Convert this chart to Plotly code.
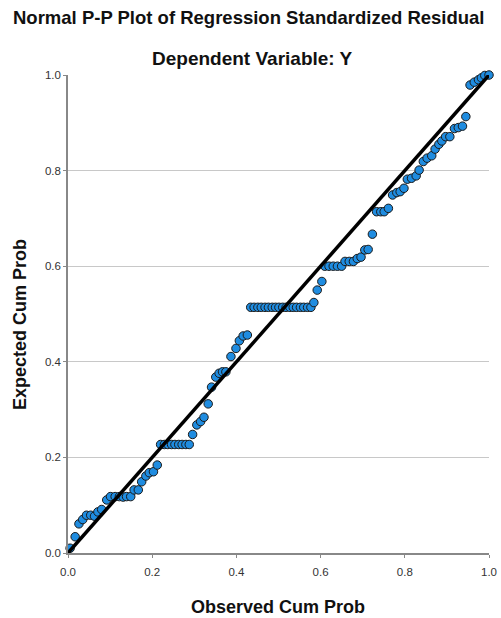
import plotly.graph_objects as go

observed = [0.005, 0.017, 0.026, 0.035, 0.044, 0.054, 0.063, 0.071, 0.080, 0.092,
            0.101, 0.112, 0.122, 0.131, 0.139, 0.149, 0.157, 0.167, 0.175, 0.185,
            0.193, 0.203, 0.212,
            0.220, 0.229, 0.237, 0.246, 0.254, 0.263, 0.271, 0.280, 0.288,
            0.296, 0.306, 0.315, 0.323, 0.333, 0.341, 0.351, 0.359, 0.367, 0.375,
            0.387, 0.399, 0.407, 0.416, 0.426,
            0.434, 0.442, 0.451, 0.459, 0.468, 0.476, 0.485, 0.493, 0.501, 0.510,
            0.518, 0.527, 0.535, 0.543, 0.552, 0.560, 0.569, 0.577,
            0.584, 0.592, 0.603,
            0.610, 0.620, 0.630, 0.640, 0.650,
            0.658, 0.668, 0.678, 0.687, 0.696, 0.705, 0.713, 0.723,
            0.733, 0.743, 0.751, 0.761, 0.771, 0.781, 0.789, 0.798,
            0.806, 0.816, 0.827, 0.834, 0.844, 0.853, 0.864, 0.872,
            0.881, 0.888, 0.897, 0.907, 0.918, 0.927, 0.937, 0.945,
            0.955, 0.965, 0.975, 0.982, 0.990, 1.000]
expected = [0.010, 0.034, 0.061, 0.070, 0.079, 0.079, 0.077, 0.086, 0.091, 0.111,
            0.118, 0.118, 0.118, 0.117, 0.118, 0.118, 0.132, 0.132, 0.149, 0.161,
            0.168, 0.170, 0.184,
            0.227, 0.227, 0.227, 0.227, 0.227, 0.227, 0.227, 0.227, 0.227,
            0.248, 0.268, 0.275, 0.284, 0.312, 0.347, 0.368, 0.376, 0.379, 0.379,
            0.411, 0.428, 0.444, 0.454, 0.456,
            0.514, 0.514, 0.514, 0.514, 0.514, 0.514, 0.514, 0.514, 0.514, 0.514,
            0.514, 0.514, 0.514, 0.514, 0.514, 0.514, 0.514, 0.514,
            0.524, 0.550, 0.568,
            0.600, 0.600, 0.600, 0.600, 0.600,
            0.610, 0.610, 0.610, 0.616, 0.619, 0.634, 0.635, 0.667,
            0.714, 0.714, 0.714, 0.721, 0.749, 0.754, 0.756, 0.763,
            0.782, 0.784, 0.789, 0.801, 0.819, 0.826, 0.831, 0.845,
            0.855, 0.862, 0.871, 0.871, 0.888, 0.890, 0.893, 0.913,
            0.979, 0.985, 0.990, 0.994, 0.999, 1.000]

ref_x = [0, 1]
ref_y = [0, 1]
tick_vals = [0.0, 0.2, 0.4, 0.6, 0.8, 1.0]
tick_text = ["0.0", "0.2", "0.4", "0.6", "0.8", "1.0"]

fig = go.Figure()
fig.add_trace(go.Scatter(
    x=observed, y=expected, mode="markers",
    marker=dict(size=8.5, color="#1F8CE0", line=dict(color="#1a1a1a", width=1)),
    cliponaxis=False, showlegend=False))
fig.add_trace(go.Scatter(
    x=ref_x, y=ref_y, mode="lines",
    line=dict(color="black", width=3.5), showlegend=False))

font_family = "Liberation Sans, Arial, sans-serif"
fig.update_layout(
    width=501, height=618,
    margin=dict(l=68, r=12, t=75, b=65, autoexpand=False),
    paper_bgcolor="white", plot_bgcolor="white",
    font=dict(family=font_family, color="#222"),
    annotations=[
        dict(text="<b>Normal P-P Plot of Regression Standardized Residual</b>",
             xref="paper", yref="paper", x=(249 - 68) / 421, y=1, xanchor="center",
             yanchor="middle", yshift=75 - 17, showarrow=False,
             font=dict(size=18.5, color="#111", family=font_family)),
        dict(text="<b>Dependent Variable: Y</b>",
             xref="paper", yref="paper", x=(252 - 68) / 421, y=1, xanchor="center",
             yanchor="middle", yshift=75 - 58, showarrow=False,
             font=dict(size=19, color="#111", family=font_family)),
        dict(text="<b>Observed Cum Prob</b>",
             xref="paper", yref="paper", x=(278 - 68) / 421, y=0, xanchor="center",
             yanchor="middle", yshift=-(607 - 553), showarrow=False,
             font=dict(size=18, color="#111", family=font_family)),
        dict(text="<b>Expected Cum Prob</b>", textangle=-90,
             xref="paper", yref="paper", x=0, y=(553 - 325) / 478, xanchor="center",
             yanchor="middle", xshift=-(68 - 20), showarrow=False,
             font=dict(size=18, color="#111", family=font_family)),
    ],
    xaxis=dict(range=[0, 1], tickvals=tick_vals, ticktext=tick_text,
               showgrid=False, zeroline=False, showline=True, automargin=False,
               linecolor="#888", linewidth=1.5, ticks="outside", ticklen=3,
               ticklabelstandoff=4,
               tickcolor="#888", tickfont=dict(size=11.5, color="#333")),
    yaxis=dict(range=[0, 1], tickvals=tick_vals, ticktext=tick_text,
               showgrid=True, gridcolor="#c8c8c8", gridwidth=1, automargin=False,
               zeroline=False, showline=True,
               linecolor="#888", linewidth=1.5, ticks="outside", ticklen=3,
               tickcolor="#888", tickfont=dict(size=11.5, color="#333")),
)

fig.write_html("out.html", config={"displayModeBar": False},
               post_script="document.body.style.margin='0';")
